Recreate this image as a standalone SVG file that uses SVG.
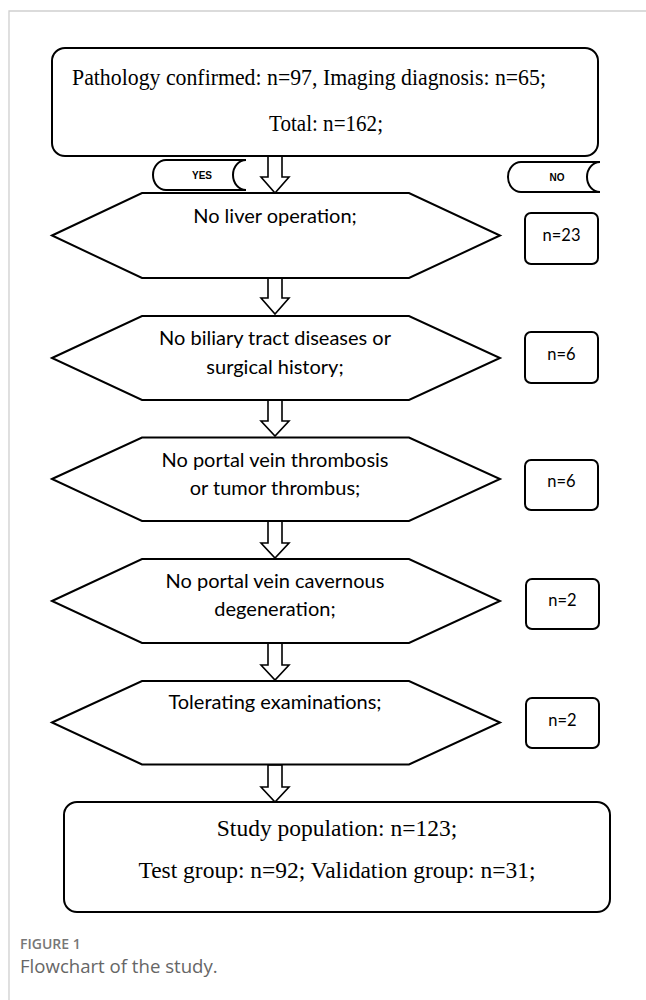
<svg xmlns="http://www.w3.org/2000/svg" width="646" height="1000" viewBox="0 0 646 1000">
<style>
.frame{fill:none;stroke:#cfcfcf;stroke-width:1.3}
.box{fill:#fff;stroke:#000;stroke-width:2}
.hex{fill:#fff;stroke:#000;stroke-width:2;stroke-linejoin:miter}
.arr{fill:#fff;stroke:#000;stroke-width:1.6;stroke-linejoin:miter}
.serif{font-family:"Liberation Serif","Times New Roman",serif;font-size:23.5px;fill:#000}
.sans{font-family:Lato,"Open Sans","Liberation Sans",sans-serif;font-size:20px;fill:#000}
.nlab{font-family:Lato,"Open Sans","Liberation Sans",sans-serif;font-size:16.5px;fill:#000}
.pill{font-family:"Liberation Sans",Arial,sans-serif;font-size:10px;font-weight:bold;fill:#000}
.cap1{font-family:"Open Sans","Liberation Sans",sans-serif;font-size:14px;font-weight:600;fill:#777}
.cap2{font-family:"Open Sans","Liberation Sans",sans-serif;font-size:18.6px;fill:#666}
</style>
<rect width="646" height="1000" fill="#fff"/>
<path class="frame" d="M9,1000 V11 H646"/>

<g id="connectors">
<path class="arr" d="M268,156 V177 H261 L275,193 L289,177 H282 V156 Z"/>
<path class="arr" d="M268,278 V298 H261 L275,314 L289,298 H282 V278 Z"/>
<path class="arr" d="M268,400 V421 H261 L275,436 L289,421 H282 V400 Z"/>
<path class="arr" d="M268,521 V543 H261 L275,558 L289,543 H282 V521 Z"/>
<path class="arr" d="M268,643 V665 H261 L275,680 L289,665 H282 V643 Z"/>
<path class="arr" d="M268,765 V787 H261 L275,802 L289,787 H282 V765 Z"/>
</g>

<g id="start">
<rect class="box" x="52" y="48" width="546" height="108" rx="13"/>
<text class="serif" x="72" y="85" textLength="474" lengthAdjust="spacingAndGlyphs">Pathology confirmed: n=97, Imaging diagnosis: n=65;</text>
<text class="serif" x="326" y="131" text-anchor="middle" textLength="114" lengthAdjust="spacingAndGlyphs">Total: n=162;</text>
</g>

<g id="yes">
<path class="box" d="M166,160 H246 A13,15 0 0,0 246,190 H166 A13,15 0 0,1 166,160 Z"/>
<text class="pill" x="202" y="179" text-anchor="middle">YES</text>
</g>
<g id="no">
<path class="box" d="M521,162 H600 A13,15 0 0,0 600,192 H521 A13,15 0 0,1 521,162 Z"/>
<text class="pill" x="557" y="181" text-anchor="middle">NO</text>
</g>

<g id="c1">
<path class="hex" d="M52,235.5 L142,193 H409 L500,235.5 L409,278 H142 Z"/>
<text class="sans" x="275" y="223" text-anchor="middle">No liver operation;</text>
</g>
<g id="x1">
<rect class="box" x="525" y="213" width="73" height="51" rx="6"/>
<text class="nlab" x="561.5" y="240.5" text-anchor="middle">n=23</text>
</g>

<g id="c2">
<path class="hex" d="M52,358 L142,316 H409 L500,358 L409,400 H142 Z"/>
<text class="sans" x="275" y="345" text-anchor="middle">No biliary tract diseases or</text>
<text class="sans" x="275" y="374" text-anchor="middle">surgical history;</text>
</g>
<g id="x2">
<rect class="box" x="525" y="332" width="73" height="51" rx="6"/>
<text class="nlab" x="561.5" y="359.5" text-anchor="middle">n=6</text>
</g>

<g id="c3">
<path class="hex" d="M52,479 L142,437.5 H409 L500,479 L409,521 H142 Z"/>
<text class="sans" x="275" y="467" text-anchor="middle">No portal vein thrombosis</text>
<text class="sans" x="275" y="495" text-anchor="middle">or tumor thrombus;</text>
</g>
<g id="x3">
<rect class="box" x="525" y="460" width="73" height="50" rx="6"/>
<text class="nlab" x="561.5" y="487" text-anchor="middle">n=6</text>
</g>

<g id="c4">
<path class="hex" d="M52,601 L142,559 H409 L500,601 L409,643 H142 Z"/>
<text class="sans" x="275" y="588" text-anchor="middle">No portal vein cavernous</text>
<text class="sans" x="275" y="616" text-anchor="middle">degeneration;</text>
</g>
<g id="x4">
<rect class="box" x="526" y="579" width="73" height="50" rx="6"/>
<text class="nlab" x="562.5" y="606" text-anchor="middle">n=2</text>
</g>

<g id="c5">
<path class="hex" d="M52,722.5 L142,681 H409 L500,722.5 L409,764.5 H142 Z"/>
<text class="sans" x="275" y="709" text-anchor="middle">Tolerating examinations;</text>
</g>
<g id="x5">
<rect class="box" x="526" y="698" width="73" height="50" rx="6"/>
<text class="nlab" x="562.5" y="725.5" text-anchor="middle">n=2</text>
</g>

<g id="end">
<rect class="box" x="64" y="802" width="546" height="110" rx="13"/>
<text class="serif" x="337" y="836" text-anchor="middle">Study population: n=123;</text>
<text class="serif" x="337" y="878" text-anchor="middle">Test group: n=92; Validation group: n=31;</text>
</g>

<text class="cap1" x="20" y="949">FIGURE 1</text>
<text class="cap2" x="20" y="973">Flowchart of the study.</text>
</svg>
